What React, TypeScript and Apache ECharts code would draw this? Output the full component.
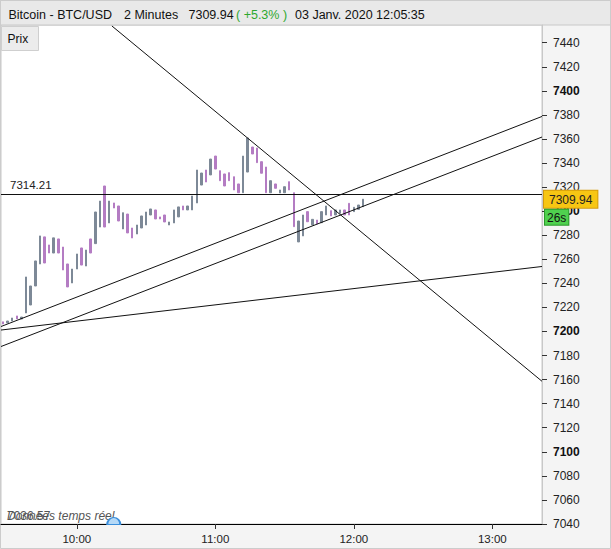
import React, { useEffect, useRef } from "react";
import * as echarts from "echarts";

// ---- data ----
const startMinute = 568; // first candle 09:28
const stepMinutes = 2;
const opens = [
  7208.0, 7207.1, 7208.7, 7212.9, 7210.4, 7215.4, 7222.0, 7237.8, 7256.1, 7278.6,
  7271.9, 7265.2, 7276.9, 7270.2, 7256.1, 7240.3, 7251.9, 7269.4, 7254.4, 7276.9,
  7273.0, 7286.8, 7320.9, 7290.2, 7306.8, 7304.3, 7285.2, 7297.6, 7286.0, 7281.0,
  7286.0, 7288.5, 7296.8, 7301.0, 7295.2, 7296.8, 7288.5, 7290.2, 7295.2, 7304.3,
  7301.0, 7301.0, 7306.8, 7321.7, 7334.2, 7330.1, 7345.8, 7333.6, 7330.9, 7332.0,
  7328.6, 7322.6, 7315.3, 7332.5, 7353.3, 7352.5, 7341.1, 7336.7, 7315.3, 7322.6,
  7315.1, 7315.3, 7324.5, 7315.3, 7274.4, 7279.4, 7299.6, 7288.5, 7292.6, 7290.4,
  7296.8, 7300.4, 7296.8, 7298.2, 7301.0, 7306.5, 7299.6, 7301.5, 7303.7,
];
const closes = [
  7206.2, 7208.7, 7211.2, 7210.4, 7212.0, 7245.3, 7237.8, 7258.6, 7279.4, 7256.9,
  7265.2, 7277.8, 7265.2, 7251.1, 7237.0, 7251.9, 7264.4, 7255.2, 7267.7, 7265.2,
  7299.3, 7308.4, 7286.8, 7308.4, 7302.6, 7291.8, 7298.7, 7281.9, 7277.7, 7288.5,
  7296.0, 7299.3, 7301.8, 7293.5, 7293.5, 7291.0, 7291.0, 7301.0, 7303.5, 7301.0,
  7304.3, 7312.6, 7334.2, 7331.7, 7324.2, 7343.3, 7335.0, 7325.3, 7320.9, 7325.3,
  7317.6, 7315.3, 7345.8, 7360.8, 7347.5, 7340.3, 7331.5, 7315.3, 7325.3, 7319.0,
  7317.6, 7320.3, 7317.6, 7287.1, 7291.8, 7296.8, 7291.2, 7293.2, 7289.3, 7299.6,
  7304.3, 7296.0, 7301.0, 7301.0, 7296.8, 7296.8, 7303.2, 7305.1, 7309.94,
];
const xTickMinutes = [600, 660, 720, 780];
const yTickValues = [
  7040, 7060, 7080, 7100, 7120, 7140, 7160, 7180, 7200, 7220, 7240,
  7260, 7280, 7300, 7320, 7340, 7360, 7380, 7400, 7420, 7440,
];
const xMin = 567.16;
const xMax = 801.5;
const yMin = 7040;
const yMax = 7454.7;
const refLevel = 7314.21;
const lastPrice = 7309.94;
const lowPrice = 7036.57;
const trendLines = [
  [[615.2, 7453.9], [801.5, 7158.6]],
  [[567.16, 7204.1], [801.5, 7378.7]],
  [[567.16, 7187.5], [801.5, 7361.6]],
  [[567.16, 7201.2], [801.5, 7254.0]],
];
const eventMinute = 616;

const FONT = "'Liberation Sans', Arial, Helvetica, sans-serif";
const UP = "#7d8997";
const DOWN = "#b47cc3";
const CLEAR = "rgba(0,0,0,0)";

const fmtTime = (m: number) =>
  `${Math.floor(m / 60)}:${String(Math.round(m % 60)).padStart(2, "0")}`;

export default function App() {
  const ref = useRef<HTMLDivElement>(null);
  useEffect(() => {
    if (!ref.current) return;
    const chart = echarts.init(ref.current, undefined, { renderer: "svg" });
    const candles = opens.map((o, i) => [
      startMinute + i * stepMinutes,
      o,
      closes[i],
      Math.min(o, closes[i]),
      Math.max(o, closes[i]),
    ]);
    chart.setOption({
      animation: false,
      backgroundColor: "#f4f4f4",
      textStyle: { fontFamily: FONT },
      grid: {
        left: 1,
        right: 69,
        top: 25,
        bottom: 25,
        show: true,
        backgroundColor: "#ffffff",
        borderColor: "#c8c8c8",
        borderWidth: 1,
      },
      xAxis: {
        type: "value",
        min: xMin,
        max: xMax,
        splitLine: { show: false },
        axisLine: { show: true, lineStyle: { color: "#000", width: 1 } },
        axisTick: {
          show: true,
          length: 5,
          customValues: xTickMinutes,
          lineStyle: { color: "#333" },
        },
        axisLabel: {
          customValues: xTickMinutes,
          formatter: (v: number) => fmtTime(v),
          color: "#222",
          fontSize: 11.5,
          fontFamily: FONT,
          margin: 9,
        },
      },
      yAxis: {
        type: "value",
        position: "right",
        min: yMin,
        max: yMax,
        splitLine: { show: false },
        axisLine: { show: true, lineStyle: { color: "#c8c8c8" } },
        axisTick: {
          show: true,
          length: 5,
          customValues: yTickValues,
          lineStyle: { color: "#333" },
        },
        axisLabel: {
          customValues: yTickValues,
          margin: 11,
          fontSize: 12,
          color: "#222",
          fontFamily: FONT,
          formatter: (v: number) =>
            v % 100 === 0 ? `{b|${v}}` : `${v}`,
          rich: { b: { fontWeight: "bold", fontSize: 12, color: "#111", fontFamily: FONT } },
        },
      },
      series: [
        {
          type: "candlestick",
          data: candles,
          encode: { x: 0, y: [1, 2, 3, 4] },
          barWidth: 2,
          itemStyle: {
            color: UP,
            color0: DOWN,
            borderColor: UP,
            borderColor0: DOWN,
            borderWidth: 1,
          },
          markLine: {
            silent: true,
            symbol: ["none", "none"],
            animation: false,
            label: { show: false },
            emphasis: { disabled: true },
            lineStyle: { color: "#111", width: 1, type: "solid" },
            data: [
              ...trendLines.map(([a, b]) => [{ coord: a }, { coord: b }]),
              [
                {
                  coord: [xMin, refLevel],
                  label: {
                    show: true,
                    position: "insideStartTop",
                    formatter: refLevel.toFixed(2),
                    color: "#222",
                    fontSize: 11.5,
                    fontFamily: FONT,
                    distance: [9, 3],
                  },
                },
                { coord: [xMax, refLevel] },
              ],
              [
                {
                  coord: [xMin, lastPrice],
                  lineStyle: { color: CLEAR, opacity: 1 },
                  label: {
                    show: true,
                    position: "end",
                    distance: 2,
                    opacity: 1,
                    formatter: `{a|${lastPrice.toFixed(2)}}`,
                    rich: {
                      a: {
                        backgroundColor: "#f7c613",
                        borderColor: "#d39a0c",
                        borderWidth: 1,
                        padding: [3, 5, 2, 5],
                        color: "#222",
                        fontSize: 12,
                        fontFamily: FONT,
                      },
                    },
                  },
                },
                { coord: [xMax, lastPrice] },
              ],
              [
                {
                  coord: [xMin, lastPrice],
                  lineStyle: { color: CLEAR, opacity: 1 },
                  label: {
                    show: true,
                    position: "end",
                    distance: 3,
                    opacity: 1,
                    formatter: "{sp|}\n{g|26s}",
                    rich: {
                      sp: { height: 36, lineHeight: 36 },
                      g: {
                        backgroundColor: "#4fd14f",
                        borderColor: "#2c9a2c",
                        borderWidth: 1,
                        padding: [2, 2, 1, 2],
                        color: "#111",
                        fontSize: 12,
                        fontFamily: FONT,
                      },
                    },
                  },
                },
                { coord: [xMax, lastPrice] },
              ],
            ],
          },
          markPoint: {
            silent: true,
            animation: false,
            label: { show: false },
            data: [
              {
                coord: [eventMinute, yMin],
                symbol: "path://M0,7 A6.5,6.5 0 0 1 13,7 Z",
                symbolSize: [13, 7],
                symbolOffset: [0, -3],
                itemStyle: { color: "#b5d9f7", borderColor: "#3a8edb", borderWidth: 1.5 },
              },
            ],
          },
        },
      ],
      graphic: [
        {
          type: "rect",
          shape: { x: 0, y: 0, width: 611, height: 25 },
          style: { fill: "#e9e9e9", stroke: "#c8c8c8", lineWidth: 1 },
          silent: true,
        },
        {
          type: "text",
          x: 8.5,
          y: 15,
          style: { text: "Bitcoin - BTC/USD", fill: "#111", font: `12.5px ${FONT}`, verticalAlign: "middle" },
        },
        {
          type: "text",
          x: 124,
          y: 15,
          style: { text: "2 Minutes", fill: "#111", font: `12.5px ${FONT}`, verticalAlign: "middle" },
        },
        {
          type: "text",
          x: 188.5,
          y: 15,
          style: { text: lastPrice.toFixed(2), fill: "#111", font: `12.5px ${FONT}`, verticalAlign: "middle" },
        },
        {
          type: "text",
          x: 236,
          y: 15,
          style: { text: "( +5.3% )", fill: "#2ea82e", font: `12.5px ${FONT}`, verticalAlign: "middle" },
        },
        {
          type: "text",
          x: 295,
          y: 15,
          style: { text: "03 Janv. 2020 12:05:35", fill: "#111", font: `12.5px ${FONT}`, verticalAlign: "middle" },
        },
        {
          type: "rect",
          shape: { x: 1.5, y: 26.5, width: 37, height: 24 },
          style: { fill: "#ececec", stroke: "#cfcfcf", lineWidth: 1 },
          silent: true,
        },
        {
          type: "text",
          x: 7.5,
          y: 39,
          style: { text: "Prix", fill: "#111", font: `12px ${FONT}`, verticalAlign: "middle" },
        },
        {
          type: "text",
          x: 7,
          y: 516,
          style: { text: lowPrice.toFixed(2), fill: "#555", font: `12px ${FONT}`, verticalAlign: "middle" },
        },
        {
          type: "text",
          x: 7,
          y: 516,
          style: { text: "Données temps réel", fill: "#555", font: `italic 12px ${FONT}`, verticalAlign: "middle" },
        },
        {
          type: "rect",
          shape: { x: 0.5, y: 0.5, width: 610, height: 548 },
          style: { fill: "none", stroke: "#cccccc", lineWidth: 1 },
          silent: true,
        },
      ],
    });
    return () => chart.dispose();
  }, []);
  return (
    <div
      ref={ref}
      style={{ position: "fixed", left: 0, top: 0, width: 611, height: 549 }}
    />
  );
}
